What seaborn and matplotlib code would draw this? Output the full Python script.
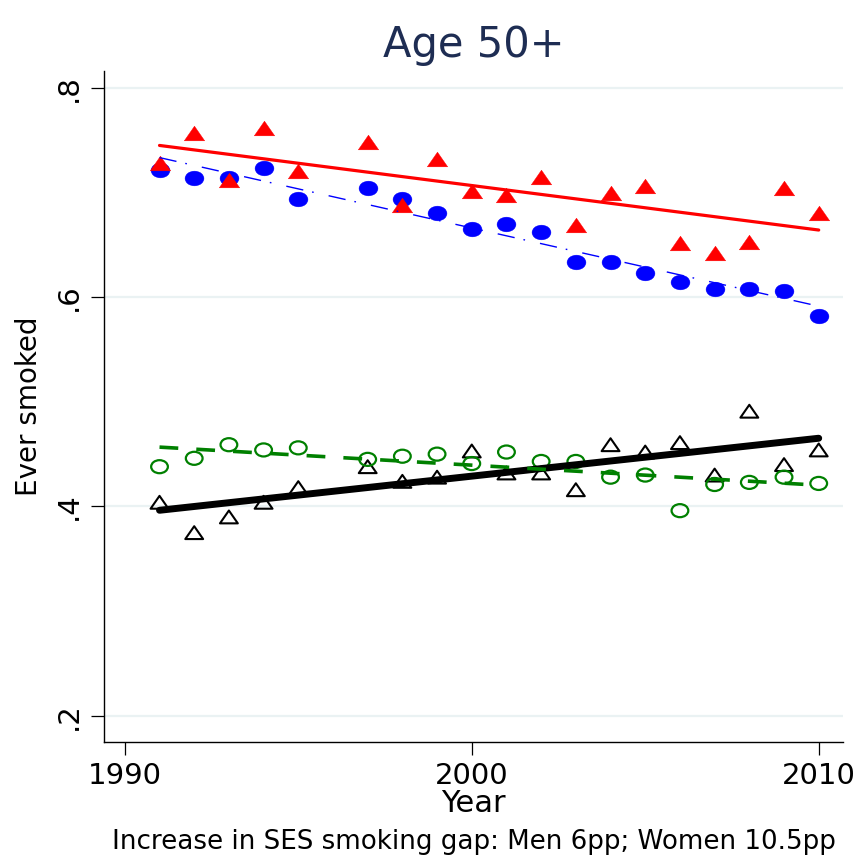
import numpy as np
import pandas as pd
import matplotlib
matplotlib.use("Agg")
import matplotlib.pyplot as plt
from matplotlib.path import Path
import seaborn as sns

# Survey years (no wave in 1996)
years = [1991, 1992, 1993, 1994, 1995, 1997, 1998, 1999, 2000, 2001,
         2002, 2003, 2004, 2005, 2006, 2007, 2008, 2009, 2010]

# Share who ever smoked, age 50+
men_low_ses = [0.728, 0.757, 0.712, 0.762, 0.720, 0.748, 0.688, 0.732, 0.701, 0.698,
               0.715, 0.669, 0.699, 0.706, 0.652, 0.642, 0.653, 0.704, 0.680]
men_high_ses = [0.721, 0.714, 0.714, 0.723, 0.694, 0.704, 0.694, 0.680, 0.665, 0.670,
                0.662, 0.634, 0.634, 0.623, 0.614, 0.608, 0.608, 0.606, 0.582]
women_low_ses = [0.404, 0.375, 0.390, 0.404, 0.418, 0.438, 0.424, 0.428, 0.453, 0.432,
                 0.432, 0.416, 0.459, 0.452, 0.461, 0.430, 0.491, 0.440, 0.454]
women_high_ses = [0.438, 0.446, 0.459, 0.454, 0.456, 0.445, 0.448, 0.450, 0.441, 0.452,
                  0.443, 0.443, 0.428, 0.430, 0.396, 0.421, 0.423, 0.428, 0.422]

y_ticks = [0.2, 0.4, 0.6, 0.8]
y_tick_labels = [".2", ".4", ".6", ".8"]
x_ticks = [1990, 2000, 2010]

df = pd.DataFrame({
    "year": years * 4,
    "ever": men_low_ses + men_high_ses + women_low_ses + women_high_ses,
    "group": (["men_low"] * len(years) + ["men_high"] * len(years)
              + ["women_low"] * len(years) + ["women_high"] * len(years)),
})

# Slightly wide markers: flattened triangle and ellipse
tri = Path([(-1.0, -0.72), (1.0, -0.72), (0.0, 0.72), (-1.0, -0.72)],
           [Path.MOVETO, Path.LINETO, Path.LINETO, Path.CLOSEPOLY])
circ = Path.unit_circle()
ell = Path(circ.vertices * np.array([1.0, 0.78]), circ.codes)

sns.set_theme(style="white")
plt.rcParams["font.family"] = ["DejaVu Sans"]

fig = plt.figure(figsize=(8.6, 8.55), dpi=100)
ax = fig.add_axes([104 / 860, 1 - 742 / 855, (843 - 104) / 860, (742 - 71) / 855])

styles = {
    "men_low": dict(marker=tri,
                    scatter_kws=dict(s=215, color="#FF0000", edgecolors="#FF0000",
                                     linewidths=0.3, alpha=1, zorder=3),
                    line_kws=dict(color="#FF0000", lw=2.3, zorder=4)),
    "men_high": dict(marker=ell,
                     scatter_kws=dict(s=185, color="#0000FF", edgecolors="#0000FF",
                                      linewidths=0.3, alpha=1, zorder=2),
                     line_kws=dict(color="#0000FF", lw=1.0,
                                   dashes=(12.5, 6.5, 1.2, 11), zorder=4)),
    "women_low": dict(marker=tri,
                      scatter_kws=dict(s=165, facecolors="none", edgecolors="black",
                                       color="black", linewidths=1.5, alpha=1, zorder=3),
                      line_kws=dict(color="black", lw=5.0, zorder=4,
                                    solid_capstyle="round")),
    "women_high": dict(marker=ell,
                       scatter_kws=dict(s=145, facecolors="none", edgecolors="#008000",
                                        color="#008000", linewidths=1.6, alpha=1, zorder=3),
                       line_kws=dict(color="#008000", lw=2.6, dashes=(5.2, 5.0),
                                     zorder=4)),
}

for grp in ["men_low", "men_high", "women_low", "women_high"]:
    st = styles[grp]
    sns.regplot(data=df[df["group"] == grp], x="year", y="ever", ax=ax, ci=None,
                marker=st["marker"], scatter_kws=st["scatter_kws"],
                line_kws=st["line_kws"])

ax.set_xlim(1989.4, 2010.7)
ax.set_ylim(0.175, 0.816)
ax.set_yticks(y_ticks)
ax.set_yticklabels(y_tick_labels, rotation=90, va="center")
ax.set_xticks(x_ticks)
ax.set_xticklabels([str(t) for t in x_ticks])

ax.yaxis.grid(True, color="#EAF2F3", lw=1.6)
ax.xaxis.grid(False)
ax.set_axisbelow(True)

for side in ["top", "right"]:
    ax.spines[side].set_visible(False)
for side in ["left", "bottom"]:
    ax.spines[side].set_color("black")
    ax.spines[side].set_linewidth(1.0)

ax.tick_params(axis="both", which="major", direction="out", length=9.5, width=0.9,
               color="black", labelsize=21, labelcolor="black",
               left=True, bottom=True)
ax.tick_params(axis="y", pad=6)
ax.tick_params(axis="x", pad=5)

ax.set_xlabel("Year", fontsize=22, color="black", labelpad=-1)
ax.set_ylabel("Ever smoked", fontsize=20, color="black", labelpad=8)
ax.set_title("Age 50+", fontsize=30, color="#1E2D53", pad=10)

fig.text((104 + 843) / 2 / 860, 1 - 849 / 855,
         "Increase in SES smoking gap: Men 6pp; Women 10.5pp",
         ha="center", va="baseline", fontsize=18.8, color="black")

fig.savefig("out.png", dpi=100)
